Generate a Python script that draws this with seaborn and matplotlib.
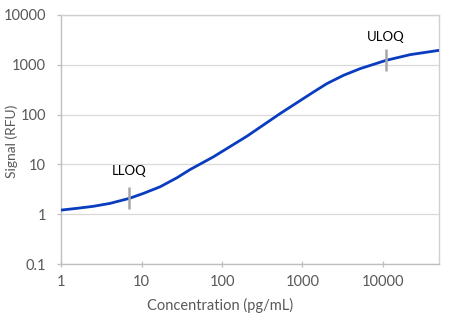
import matplotlib
matplotlib.use("Agg")
import matplotlib.pyplot as plt
import seaborn as sns
import pandas as pd

# Standard curve read points: concentration (pg/mL) vs signal (RFU)
concentration = [1, 1.56, 2.5, 4.04, 7, 10.5, 16.9, 27.4, 40, 78, 204, 530,
                 1375, 2020, 3250, 5250, 11000, 22000, 50000]
signal = [1.22, 1.32, 1.45, 1.66, 2.09, 2.63, 3.56, 5.4, 7.9, 14.2, 36.8, 105,
          283, 417, 611, 832, 1219, 1585, 1930]

# Limits of quantitation: label, concentration, signal on the curve
loq_labels = ["LLOQ", "ULOQ"]
loq_conc = [7, 11000]
loq_signal = [2.09, 1219]

x_ticks = [1, 10, 100, 1000, 10000]
x_tick_labels = ["1", "10", "100", "1000", "10000"]
y_ticks = [0.1, 1, 10, 100, 1000, 10000]
y_tick_labels = ["0.1", "1", "10", "100", "1000", "10000"]

sns.set_theme(style="white")
plt.rcParams["font.family"] = ["Lato", "DejaVu Sans"]

df = pd.DataFrame({"Concentration": concentration, "Signal": signal})

fig = plt.figure(figsize=(4.67, 3.25), dpi=100)
ax = fig.add_axes([0.1313, 0.1868, 0.9400 - 0.1313, 0.9548 - 0.1868])

sns.lineplot(data=df, x="Concentration", y="Signal", ax=ax,
             color="#0a3cc0", linewidth=2.0, zorder=3)

ax.set_xscale("log")
ax.set_yscale("log")
ax.set_xlim(1, 50000)
ax.set_ylim(0.1, 10000)

# LOQ markers: short vertical bars centred on the curve, label above
label_offsets = [20, 17]  # points above the curve
for lab, xc, yc, off in zip(loq_labels, loq_conc, loq_signal, label_offsets):
    ax.plot([xc, xc], [yc / 1.66, yc * 1.66], color="#a6a6a6", linewidth=1.8, zorder=4,
            solid_capstyle="butt")
    ax.annotate(lab, xy=(xc, yc), xytext=(0, off), textcoords="offset points",
                ha="center", va="center", fontsize=9.5, color="black")

ax.set_xticks(x_ticks)
ax.set_xticklabels(x_tick_labels)
ax.set_yticks(y_ticks)
ax.set_yticklabels(y_tick_labels)
ax.minorticks_off()

ax.yaxis.grid(True, color="#d9d9d9", linewidth=0.9)
ax.xaxis.grid(False)
ax.set_axisbelow(True)

for side in ["left", "bottom"]:
    ax.spines[side].set_color("#bfbfbf")
    ax.spines[side].set_linewidth(1.0)
for side in ["top", "right"]:
    ax.spines[side].set_visible(True)
    ax.spines[side].set_color("#d0d0d0")
    ax.spines[side].set_linewidth(1.0)

ax.tick_params(axis="x", which="major", direction="inout", length=5, width=0.9,
               color="#bfbfbf", labelsize=10.5, labelcolor="#595959", pad=5, bottom=True)
ax.tick_params(axis="y", which="major", direction="out", length=3, width=0.9,
               color="#bfbfbf", labelsize=10.5, labelcolor="#595959", pad=8, left=True)

ax.set_xlabel("Concentration (pg/mL)", fontsize=10.5, color="#595959")
ax.set_ylabel("Signal (RFU)", fontsize=10, color="#595959")
ax.xaxis.set_label_coords(0.4215, -0.134)
ax.yaxis.set_label_coords(-0.1146, 0.494)

fig.savefig("out.png", dpi=100)
